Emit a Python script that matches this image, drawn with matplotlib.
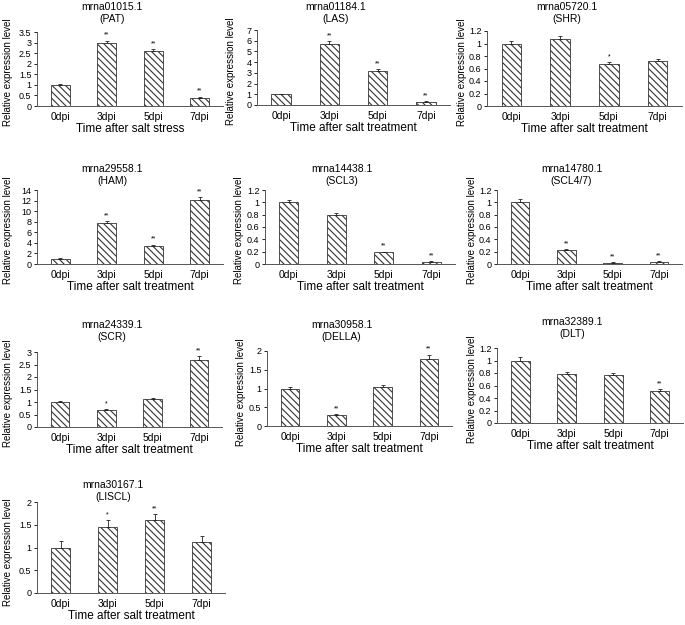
import numpy as np
import matplotlib.pyplot as plt

plt.rcParams['font.family'] = ['Liberation Sans', 'DejaVu Sans']
plt.rcParams['hatch.linewidth'] = 0.8

days = ['0dpi', '3dpi', '5dpi', '7dpi']

# values (mean, upper error, significance)
pat = [1.00, 2.97, 2.58, 0.40]
pat_err = [0.03, 0.12, 0.10, 0.03]
pat_sig = ['', '**', '**', '**']

las = [1.00, 5.65, 3.20, 0.28]
las_err = [0.05, 0.30, 0.15, 0.05]
las_sig = ['', '**', '**', '**']

shr = [1.00, 1.07, 0.67, 0.72]
shr_err = [0.04, 0.05, 0.03, 0.03]
shr_sig = ['', '', '*', '']

ham = [1.0, 7.8, 3.4, 12.1]
ham_err = [0.05, 0.3, 0.2, 0.5]
ham_sig = ['', '**', '**', '**']

scl3 = [1.00, 0.79, 0.19, 0.04]
scl3_err = [0.04, 0.03, 0.01, 0.005]
scl3_sig = ['', '', '**', '**']

scl47 = [1.00, 0.23, 0.02, 0.04]
scl47_err = [0.05, 0.01, 0.005, 0.005]
scl47_sig = ['', '**', '**', '**']

scr = [1.00, 0.67, 1.13, 2.68]
scr_err = [0.04, 0.04, 0.05, 0.15]
scr_sig = ['', '*', '', '**']

della = [1.00, 0.30, 1.05, 1.80]
della_err = [0.05, 0.02, 0.05, 0.10]
della_sig = ['', '**', '', '**']

dlt = [1.00, 0.78, 0.77, 0.52]
dlt_err = [0.05, 0.03, 0.03, 0.02]
dlt_sig = ['', '', '', '**']

liscl = [1.00, 1.45, 1.60, 1.12]
liscl_err = [0.14, 0.15, 0.13, 0.13]
liscl_sig = ['', '*', '**', '']

titles = ['mrna01015.1\n(PAT)', 'mrna01184.1\n(LAS)', 'mrna05720.1\n(SHR)',
          'mrna29558.1\n(HAM)', 'mrna14438.1\n(SCL3)', 'mrna14780.1\n(SCL4/7)',
          'mrna24339.1\n(SCR)', 'mrna30958.1\n(DELLA)', 'mrna32389.1\n(DLT)',
          'mrna30167.1\n(LISCL)']
xlabels = ['Time after salt stress'] + ['Time after salt treatment'] * 9
ymax = [3.5, 7, 1.2, 14, 1.2, 1.2, 3, 2, 1.2, 2]
ystep = [0.5, 1, 0.2, 2, 0.2, 0.2, 0.5, 0.5, 0.2, 0.5]

series = [(pat, pat_err, pat_sig), (las, las_err, las_sig), (shr, shr_err, shr_sig),
          (ham, ham_err, ham_sig), (scl3, scl3_err, scl3_sig), (scl47, scl47_err, scl47_sig),
          (scr, scr_err, scr_sig), (della, della_err, della_sig), (dlt, dlt_err, dlt_sig),
          (liscl, liscl_err, liscl_sig)]

W, H = 685, 625
# axes boxes in pixels: left, top, right, bottom, title centre y, ylabel offset
boxes = [(37, 32, 223, 106, 13, 24), (257, 30, 450, 105, 13, 21), (487, 31, 682, 106, 13, 20),
         (37, 190, 223, 264, 175, 24), (265, 190, 455, 264, 175, 21), (497, 190, 682, 264, 175, 20),
         (37, 352, 222, 427, 331, 24), (267, 351, 452, 426, 331, 21), (497, 348, 683, 423, 328, 20),
         (37, 502, 225, 593, 491, 24)]

fig = plt.figure(figsize=(W / 100, H / 100), dpi=100)

for i, (vals, errs, sig) in enumerate(series):
    l, t, r, b, ty, yo = boxes[i]
    ax = fig.add_axes([l / W, 1 - b / H, (r - l) / W, (b - t) / H])
    x = np.arange(len(days))
    ax.bar(x, vals, width=0.4, color='white', edgecolor='#333333', linewidth=0.6,
           hatch='\\\\\\\\\\', zorder=2)
    ax.errorbar(x, vals, yerr=[np.zeros(len(vals)), errs], fmt='none', ecolor='#222222',
                elinewidth=0.6, capsize=1.5, capthick=0.6, zorder=3)
    for xi, v, e, s in zip(x, vals, errs, sig):
        if s:
            ax.annotate(s, (xi, v + e), xytext=(0, 1.5), textcoords='offset points',
                        ha='center', va='bottom', fontsize=5)
    ax.set_xlim(-0.5, 3.5)
    ax.set_ylim(0, ymax[i])
    ticks = np.arange(0, ymax[i] + ystep[i] / 2, ystep[i])
    ax.set_yticks(ticks)
    ax.set_yticklabels(['%g' % v for v in ticks])
    ax.set_xticks(x)
    ax.set_xticklabels(days)
    ax.tick_params(axis='y', labelsize=6.5, length=2, width=0.6, pad=2)
    ax.tick_params(axis='x', labelsize=7.5, length=0, pad=4)
    for sp in ['top', 'right']:
        ax.spines[sp].set_visible(False)
    for sp in ['left', 'bottom']:
        ax.spines[sp].set_linewidth(0.7)
        ax.spines[sp].set_color('#555555')
    ax.set_xlabel(xlabels[i], fontsize=8.5, labelpad=1)
    ax.set_ylabel('Relative expression level', fontsize=7)
    ax.yaxis.set_label_coords(-yo / (r - l), 0.45)
    fig.text(((l + r) / 2 - 18) / W, 1 - ty / H, titles[i], ha='center', va='center',
             fontsize=7.5, linespacing=1.15)

fig.savefig('out.png', dpi=100)
